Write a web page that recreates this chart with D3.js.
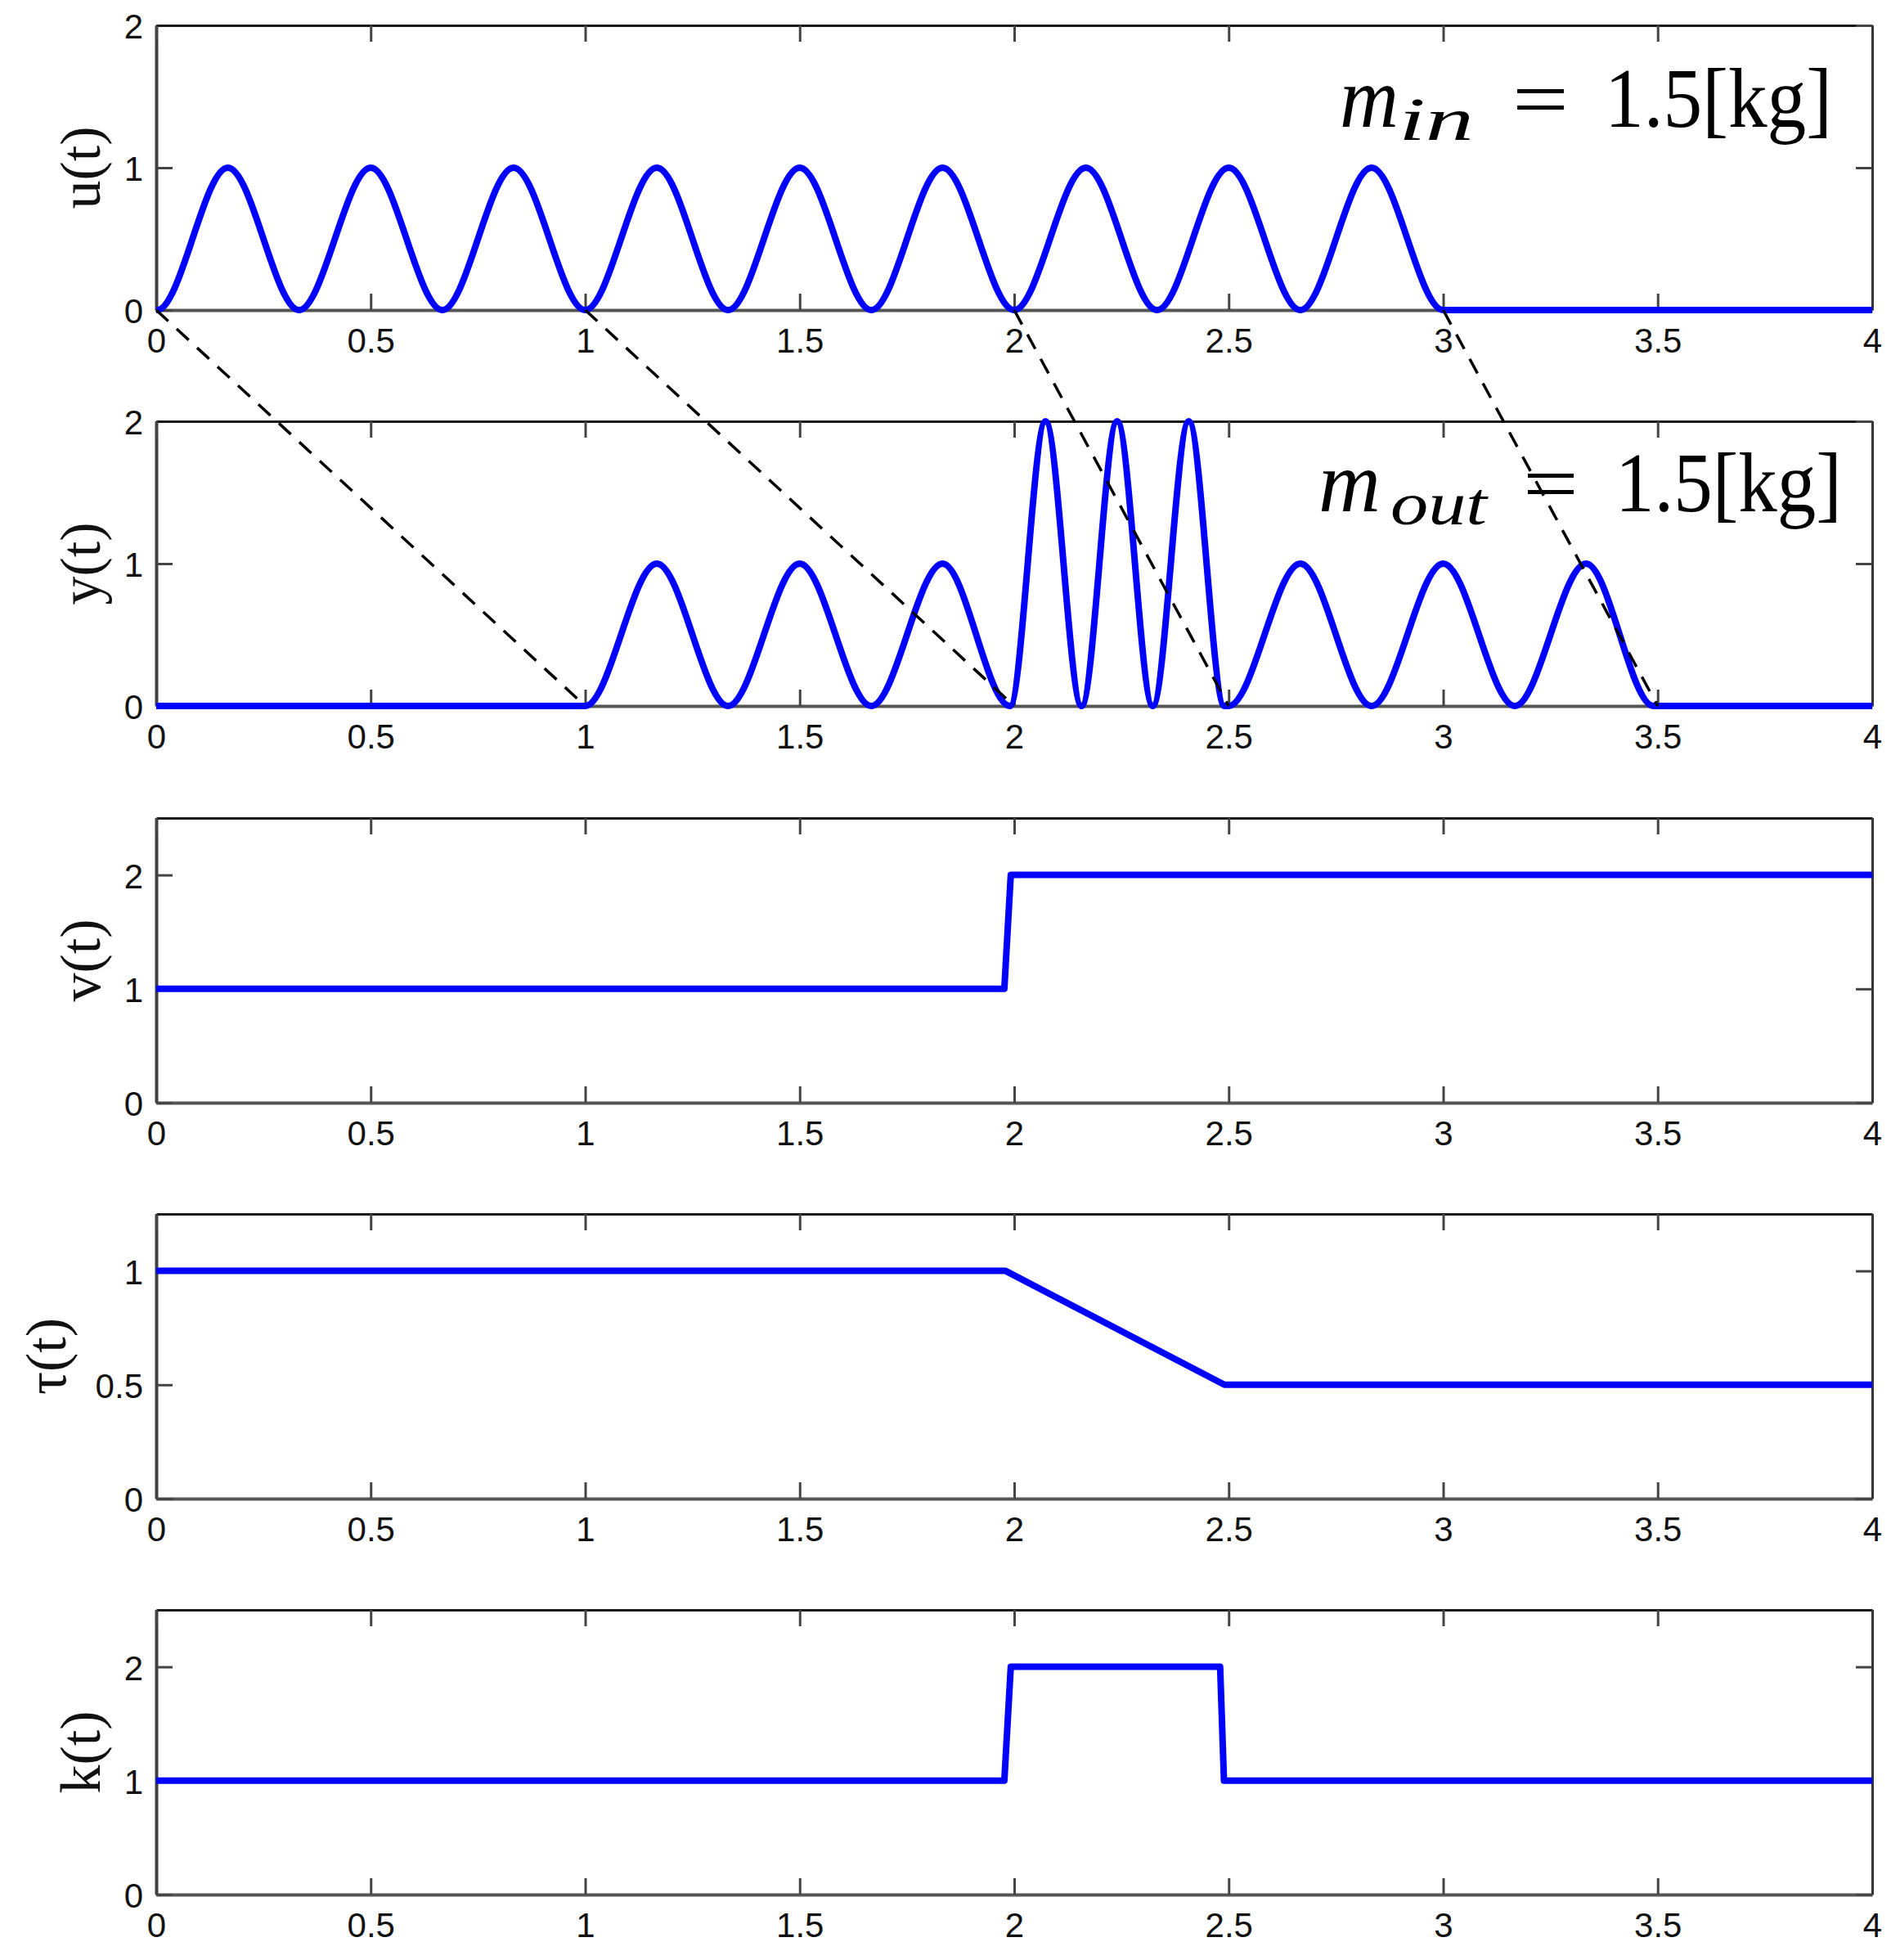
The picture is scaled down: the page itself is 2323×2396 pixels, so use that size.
<!DOCTYPE html>
<meta charset="utf-8">
<script src="https://d3js.org/d3.v7.min.js"></script>
<body style="margin:0;background:white">
<div id="chart"></div>
</body>
<script>
// signals (time in s)
const uT = [0, 0.002, 0.167, 0.333, 0.5, 0.667, 0.833, 1, 1.167, 1.333, 1.5, 1.667, 1.833, 2, 2.167, 2.333, 2.5, 2.667, 2.833, 3, 4];
const uV = [0, 0, 1, 0, 1, 0, 1, 0, 1, 0, 1, 0, 1, 0, 1, 0, 1, 0, 1, 0, 0];

const yT = [0, 1, 1.167, 1.333, 1.5, 1.667, 1.833, 1.99, 2.073, 2.157, 2.24, 2.323, 2.407, 2.49, 2.5, 2.667, 2.833, 3, 3.167, 3.333, 3.49, 4];
const yV = [0, 0, 1, 0, 1, 0, 1, 0, 2, 0, 2, 0, 2, 0, 0, 1, 0, 1, 0, 1, 0, 0];

const vT = [0, 1.977, 1.992, 4];
const vV = [1, 1, 2, 2];

const tauT = [0, 1.98, 2.49, 4];
const tauV = [1, 1, 0.5, 0.5];

const kT = [0, 1.977, 1.992, 2.48, 2.489, 4];
const kV = [1, 1, 2, 2, 1, 1];

const xTicks = [0, 0.5, 1, 1.5, 2, 2.5, 3, 3.5, 4];
const yLabels = ["u(t)", "y(t)", "v(t)", "τ(t)", "k(t)"];
const yMax = [2, 2, 2.5, 1.25, 2.5];
const yTicks = [[0, 1, 2], [0, 1, 2], [0, 1, 2], [0, 0.5, 1], [0, 1, 2]];

// dashed delay lines: input time -> output time
const delayFrom = [0, 1, 2, 3];
const delayTo = [1, 2, 2.5, 3.5];

const series = [[uT, uV], [yT, yV], [vT, vV], [tauT, tauV], [kT, kV]];

// layout
const W = 2323, H = 2396;
const left = 191, right = 2289;
const tops = [31, 515, 1000, 1484, 1968];
const ph = 348;
const labelX = [122, 122, 122, 80, 122];

const svg = d3.select("#chart").append("svg")
  .attr("width", W).attr("height", H)
  .style("background", "white");

const x = d3.scaleLinear().domain([0, 4]).range([left, right]);
const ys = [];

tops.forEach((top, i) => {
  const y = d3.scaleLinear().domain([0, yMax[i]]).range([top + ph, top]);
  ys.push(y);
  const g = svg.append("g");

  // bottom axis with labels, ticks pointing in
  const gb = g.append("g").attr("transform", `translate(0,${top + ph})`)
    .call(d3.axisBottom(x).tickValues(xTicks).tickFormat(d => String(d))
      .tickSizeInner(-20).tickSizeOuter(0).tickPadding(22));
  // left axis
  const gl = g.append("g").attr("transform", `translate(${left},0)`)
    .call(d3.axisLeft(y).tickValues(yTicks[i]).tickFormat(d => String(d))
      .tickSizeInner(-20).tickSizeOuter(0).tickPadding(16));
  // mirrored top / right ticks
  const gt = g.append("g").attr("transform", `translate(0,${top})`)
    .call(d3.axisTop(x).tickValues(xTicks).tickFormat("").tickSizeInner(-20).tickSizeOuter(0));
  const gr = g.append("g").attr("transform", `translate(${right},0)`)
    .call(d3.axisRight(y).tickValues(yTicks[i]).tickFormat("").tickSizeInner(-20).tickSizeOuter(0));

  [gb, gl].forEach(a => {
    a.selectAll("text")
      .attr("font-family", "'Liberation Sans', Arial, sans-serif")
      .attr("font-size", 42).attr("fill", "#111");
  });
  gl.selectAll("text").attr("dy", "0.38em");
  gb.select(".domain").attr("stroke", "#555").attr("stroke-width", 4);
  gl.select(".domain").attr("stroke", "#404040").attr("stroke-width", 4);
  gt.select(".domain").attr("stroke", "#1a1a1a").attr("stroke-width", 3);
  gr.select(".domain").attr("stroke", "#333").attr("stroke-width", 3);
  [gb, gl, gt, gr].forEach(a => a.selectAll(".tick line").attr("stroke", "#444").attr("stroke-width", 3));

  // y label
  svg.append("text")
    .attr("transform", `translate(${labelX[i]},${top + ph / 2}) rotate(-90)`)
    .attr("text-anchor", "middle")
    .attr("font-family", "'Liberation Serif', 'Times New Roman', serif")
    .attr("font-size", 70)
    .attr("fill", "#111")
    .text(yLabels[i]);

  // signal
  const [ts, vs] = series[i];
  const line = d3.line()
    .x(d => x(d[0])).y(d => y(d[1]))
    .curve(i < 2 ? d3.curveMonotoneX : d3.curveLinear);
  svg.append("path")
    .datum(ts.map((t, j) => [t, vs[j]]))
    .attr("d", line)
    .attr("fill", "none")
    .attr("stroke", "#0000ff")
    .attr("stroke-width", 8)
    .attr("stroke-linejoin", "round");
});

// mass annotations
function massLabel(parts) {
  const t = svg.append("text")
    .attr("font-family", "'Liberation Serif', 'Times New Roman', serif")
    .attr("fill", "#000");
  parts.forEach(p => {
    t.append("tspan")
      .attr("x", p.x).attr("y", p.y)
      .attr("font-size", p.size)
      .attr("font-style", p.italic ? "italic" : "normal")
      .attr("textLength", p.len)
      .attr("lengthAdjust", "spacingAndGlyphs")
      .text(p.s);
  });
}
massLabel([
  {s: "m", x: 1638, y: 155, size: 106, italic: true, len: 72},
  {s: "in", x: 1710, y: 171, size: 74, italic: true, len: 92},
  {s: "=", x: 1849, y: 155, size: 100, len: 69},
  {s: "1.5[kg]", x: 1962, y: 155, size: 104, len: 278}
]);
massLabel([
  {s: "m", x: 1612, y: 625, size: 106, italic: true, len: 76},
  {s: "out", x: 1700, y: 641, size: 74, italic: true, len: 118},
  {s: "=", x: 1862, y: 625, size: 100, len: 68},
  {s: "1.5[kg]", x: 1975, y: 625, size: 104, len: 277}
]);

// dashed delay lines from u(t) axis to y(t) axis
svg.append("g").selectAll("line")
  .data(delayFrom.map((t, j) => [t, delayTo[j]]))
  .join("line")
  .attr("x1", d => x(d[0])).attr("y1", ys[0](0))
  .attr("x2", d => x(d[1])).attr("y2", ys[1](0))
  .attr("stroke", "#000")
  .attr("stroke-width", 3.5)
  .attr("stroke-dasharray", "20,14");
</script>
